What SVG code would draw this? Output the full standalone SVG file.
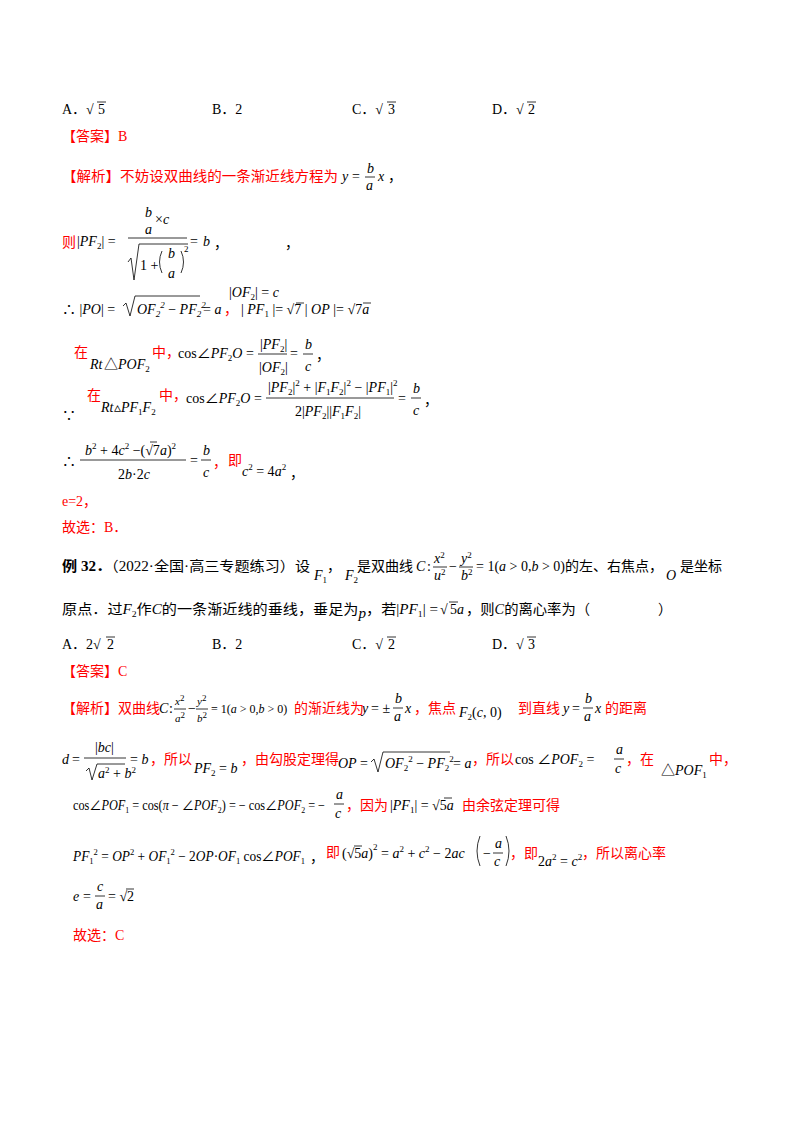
<svg xmlns="http://www.w3.org/2000/svg" width="800" height="1132" viewBox="0 0 800 1132">
<style>
text{font-family:"Liberation Serif","Noto Sans CJK SC",serif;font-size:14px;fill:#000}
.r{fill:#ff0000}
.i{font-style:italic}
.s{font-size:9px}
.b{font-weight:bold}
line{stroke:#000;stroke-width:0.8}
.k{fill:none;stroke:#000;stroke-width:0.8}
</style>
<rect width="800" height="1132" fill="#fff"/>
<text x="62" y="114">A．√</text><line x1="97" y1="102" x2="106" y2="102"/><text x="98" y="114">5</text>
<text x="212" y="114">B．2</text>
<text x="352" y="114">C．√</text><line x1="387" y1="102" x2="396" y2="102"/><text x="388" y="114">3</text>
<text x="492" y="114">D．√</text><line x1="527" y1="102" x2="536" y2="102"/><text x="528" y="114">2</text>
<text x="62" y="141" class="r">【答案】B</text>
<text x="62" y="181" class="r" textLength="276" lengthAdjust="spacingAndGlyphs">【解析】不妨设双曲线的一条渐近线方程为</text>
<text x="342" y="181" class="i">y</text><text x="352" y="181">=</text>
<text x="367" y="173" class="i">b</text><line x1="365" y1="177" x2="375" y2="177"/><text x="366" y="190" class="i">a</text>
<text x="378" y="181" class="i">x</text><text x="388" y="181">，</text>
<text x="62" y="247" class="r">则</text>
<text x="77" y="246"><tspan>|</tspan><tspan class="i">PF</tspan><tspan class="s" dy="3">2</tspan><tspan dy="-3">| =</tspan></text>
<text x="145" y="217" class="i">b</text><text x="155" y="224">×</text><text x="163" y="224" class="i">c</text>
<text x="145" y="234" class="i">a</text>
<line x1="128" y1="238" x2="187" y2="238"/>
<path class="k" d="M128,262 L131,258 L134,280 L139,244 L188,244"/>
<text x="140" y="270">1 +</text>
<path class="k" d="M162,251 Q157,262 162,273"/><path class="k" d="M181,251 Q186,262 181,273"/>
<text x="168" y="258" class="i">b</text><text x="168" y="278" class="i">a</text><text x="184" y="252" class="s">2</text>
<text x="190" y="246">=</text><text x="203" y="246" class="i">b</text><text x="214" y="248">，</text>
<text x="285" y="248">，</text>
<text x="229" y="297"><tspan>|</tspan><tspan class="i">OF</tspan><tspan class="s" dy="3">2</tspan><tspan dy="-3">| =</tspan><tspan class="i"> c</tspan></text>
<text x="62" y="314">∴ |<tspan class="i">PO</tspan>| =</text>
<path class="k" d="M123,306 L126,303 L130,316 L135,296 L200,296"/>
<text x="137" y="314" class="i">OF<tspan class="s" dy="3">2</tspan><tspan class="s" dy="-9">2</tspan><tspan dy="6" style="font-style:normal"> − </tspan>PF<tspan class="s" dy="3">2</tspan><tspan class="s" dy="-9">2</tspan></text>
<text x="203" y="314">= <tspan class="i">a</tspan></text><text x="224" y="314" class="r">，</text>
<text x="241" y="314">| <tspan class="i">PF</tspan><tspan class="s" dy="3">1</tspan><tspan dy="-3"> |= √7 | </tspan><tspan class="i">OP</tspan> |= √7<tspan class="i">a</tspan></text>
<line x1="296" y1="303" x2="304" y2="303"/><line x1="363" y1="303" x2="371" y2="303"/>
<text x="74" y="357" class="r">在</text>
<text x="90" y="369" class="i">Rt</text><text x="104" y="369">△<tspan class="i">POF</tspan><tspan class="s" dy="3">2</tspan></text>
<text x="152" y="357" class="r">中，</text>
<text x="178" y="358">cos∠<tspan class="i">PF</tspan><tspan class="s" dy="3">2</tspan><tspan class="i" dy="-3">O</tspan> =</text>
<text x="260" y="349">|<tspan class="i">PF</tspan><tspan class="s" dy="3">2</tspan><tspan dy="-3">|</tspan></text>
<line x1="258" y1="354" x2="287" y2="354"/>
<text x="259" y="372">|<tspan class="i">OF</tspan><tspan class="s" dy="3">2</tspan><tspan dy="-3">|</tspan></text>
<text x="290" y="358">=</text>
<text x="305" y="349" class="i">b</text><line x1="303" y1="354" x2="313" y2="354"/><text x="305" y="371" class="i">c</text>
<text x="316" y="360">，</text>
<text x="62" y="420">∵</text>
<text x="87" y="400" class="r">在</text>
<text x="101" y="412" class="i">Rt</text><text x="114" y="412">▵<tspan class="i">PF</tspan><tspan class="s" dy="3">1</tspan><tspan class="i" dy="-3">F</tspan><tspan class="s" dy="3">2</tspan></text>
<text x="159" y="400" class="r">中，</text>
<text x="186" y="403">cos∠<tspan class="i">PF</tspan><tspan class="s" dy="3">2</tspan><tspan class="i" dy="-3">O</tspan> =</text>
<text x="268" y="392">|<tspan class="i">PF</tspan><tspan class="s" dy="3">2</tspan><tspan dy="-3">|</tspan><tspan class="s" dy="-6">2</tspan><tspan dy="6"> + |</tspan><tspan class="i">F</tspan><tspan class="s" dy="3">1</tspan><tspan class="i" dy="-3">F</tspan><tspan class="s" dy="3">2</tspan><tspan dy="-3">|</tspan><tspan class="s" dy="-6">2</tspan><tspan dy="6"> − |</tspan><tspan class="i">PF</tspan><tspan class="s" dy="3">1</tspan><tspan dy="-3">|</tspan><tspan class="s" dy="-6">2</tspan></text>
<line x1="266" y1="398" x2="394" y2="398"/>
<text x="295" y="416">2|<tspan class="i">PF</tspan><tspan class="s" dy="3">2</tspan><tspan dy="-3">||</tspan><tspan class="i">F</tspan><tspan class="s" dy="3">1</tspan><tspan class="i" dy="-3">F</tspan><tspan class="s" dy="3">2</tspan><tspan dy="-3">|</tspan></text>
<text x="398" y="403">=</text>
<text x="413" y="393" class="i">b</text><line x1="411" y1="398" x2="421" y2="398"/><text x="413" y="415" class="i">c</text>
<text x="424" y="405">，</text>
<text x="62" y="466">∴</text>
<text x="85" y="455" class="i">b<tspan class="s" dy="-6" style="font-style:normal">2</tspan><tspan dy="6" style="font-style:normal"> + 4</tspan>c<tspan class="s" dy="-6" style="font-style:normal">2</tspan><tspan dy="6" style="font-style:normal"> −(√7</tspan>a<tspan style="font-style:normal">)</tspan><tspan class="s" dy="-6" style="font-style:normal">2</tspan></text>
<line x1="150" y1="442" x2="157" y2="442"/>
<line x1="80" y1="460" x2="186" y2="460"/>
<text x="118" y="479">2<tspan class="i">b</tspan>·2<tspan class="i">c</tspan></text>
<text x="190" y="465">=</text>
<text x="203" y="455" class="i">b</text><line x1="201" y1="460" x2="211" y2="460"/><text x="203" y="477" class="i">c</text>
<text x="213" y="467" class="r">，</text>
<text x="228" y="465" class="r">即</text>
<text x="242" y="476" class="i">c<tspan class="s" dy="-6" style="font-style:normal">2</tspan><tspan dy="6" style="font-style:normal"> = 4</tspan>a<tspan class="s" dy="-6" style="font-style:normal">2</tspan></text>
<text x="290" y="478">，</text>
<text x="62" y="506" class="r">e=2，</text>
<text x="62" y="532" class="r">故选：B．</text>
<text x="62" y="571" textLength="248" lengthAdjust="spacingAndGlyphs"><tspan class="b">例 32．</tspan>（2022·全国·高三专题练习）设</text>
<text x="314" y="580" class="i">F<tspan class="s" dy="3" style="font-style:normal">1</tspan></text><text x="327" y="571">，</text>
<text x="345" y="580" class="i">F<tspan class="s" dy="3" style="font-style:normal">2</tspan></text><text x="357" y="571">是双曲线</text>
<text x="416" y="571" class="i">C</text><text x="427" y="571">:</text>
<text x="434" y="563" class="i">x<tspan class="s" dy="-5" style="font-style:normal">2</tspan></text><line x1="433" y1="567" x2="447" y2="567"/><text x="434" y="580" class="i">u<tspan class="s" dy="-5" style="font-style:normal">2</tspan></text>
<text x="449" y="571">−</text>
<text x="461" y="563" class="i">y<tspan class="s" dy="-5" style="font-style:normal">2</tspan></text><line x1="459" y1="567" x2="473" y2="567"/><text x="461" y="580" class="i">b<tspan class="s" dy="-5" style="font-style:normal">2</tspan></text>
<text x="476" y="571">= 1(<tspan class="i">a</tspan> &gt; 0,<tspan class="i">b</tspan> &gt; 0)的左、右焦点，</text>
<text x="666" y="580" class="i">O</text><text x="680" y="571">是坐标</text>
<text x="62" y="614" textLength="376" lengthAdjust="spacingAndGlyphs">原点．过<tspan class="i">F</tspan><tspan class="s" dy="3">2</tspan><tspan dy="-3">作</tspan><tspan class="i">C</tspan>的一条渐近线的垂线，垂足为<tspan class="i" dy="4">p</tspan><tspan dy="-4">，若|</tspan><tspan class="i">PF</tspan><tspan class="s" dy="3">1</tspan><tspan dy="-3">| =</tspan></text>
<text x="440" y="614">√</text><line x1="449" y1="602" x2="458" y2="602"/><text x="450" y="614">5<tspan class="i">a</tspan></text>
<text x="466" y="614" textLength="124" lengthAdjust="spacingAndGlyphs">，则<tspan class="i">C</tspan>的离心率为（</text>
<text x="658" y="614">）</text>
<text x="62" y="649">A．2√</text><line x1="106" y1="637" x2="115" y2="637"/><text x="107" y="649">2</text>
<text x="212" y="649">B．2</text>
<text x="352" y="649">C．√</text><line x1="387" y1="637" x2="396" y2="637"/><text x="388" y="649">2</text>
<text x="492" y="649">D．√</text><line x1="527" y1="637" x2="536" y2="637"/><text x="528" y="649">3</text>
<text x="62" y="676" class="r">【答案】C</text>
<text x="62" y="713" class="r">【解析】双曲线</text>
<text x="159" y="713" class="i">C</text><text x="169" y="713">:</text>
<text x="175" y="705" class="i" style="font-size:11px">x<tspan class="s" dy="-4" style="font-style:normal">2</tspan></text><line x1="174" y1="709" x2="186" y2="709"/><text x="175" y="722" class="i" style="font-size:11px">a<tspan class="s" dy="-4" style="font-style:normal">2</tspan></text>
<text x="188" y="713">−</text>
<text x="197" y="705" class="i" style="font-size:11px">y<tspan class="s" dy="-4" style="font-style:normal">2</tspan></text><line x1="196" y1="709" x2="208" y2="709"/><text x="197" y="722" class="i" style="font-size:11px">b<tspan class="s" dy="-4" style="font-style:normal">2</tspan></text>
<text x="211" y="713" style="font-size:12px">= 1(<tspan class="i">a</tspan> &gt; 0,<tspan class="i">b</tspan> &gt; 0)</text>
<text x="294" y="713" class="r">的渐近线为</text>
<text x="362" y="713" class="i">y</text><text x="371" y="713">= ±</text>
<text x="395" y="703" class="i">b</text><line x1="393" y1="708" x2="403" y2="708"/><text x="394" y="721" class="i">a</text>
<text x="405" y="713" class="i">x</text>
<text x="414" y="713" class="r">，焦点</text>
<text x="459" y="717" class="i">F<tspan class="s" dy="3" style="font-style:normal">2</tspan><tspan dy="-3" style="font-style:normal">(</tspan>c<tspan style="font-style:normal">, 0)</tspan></text>
<text x="518" y="713" class="r">到直线</text>
<text x="563" y="713" class="i">y</text><text x="572" y="713">=</text>
<text x="585" y="703" class="i">b</text><line x1="583" y1="708" x2="593" y2="708"/><text x="584" y="721" class="i">a</text>
<text x="595" y="713" class="i">x</text><text x="605" y="713" class="r">的距离</text>
<text x="62" y="764" class="i">d</text><text x="72" y="764">=</text>
<text x="95" y="752">|<tspan class="i">bc</tspan>|</text>
<line x1="84" y1="758" x2="126" y2="758"/>
<path class="k" d="M86,771 L89,768 L92,780 L97,764 L125,764"/>
<text x="98" y="778" class="i">a<tspan class="s" dy="-5" style="font-style:normal">2</tspan><tspan dy="5" style="font-style:normal"> + </tspan>b<tspan class="s" dy="-5" style="font-style:normal">2</tspan></text>
<text x="130" y="764">= <tspan class="i">b</tspan></text>
<text x="150" y="764" class="r">，所以</text>
<text x="194" y="773" class="i">PF<tspan class="s" dy="3" style="font-style:normal">2</tspan><tspan dy="-3" style="font-style:normal"> = </tspan>b</text>
<text x="241" y="764" class="r">，由勾股定理得</text>
<text x="338" y="768" class="i">OP</text><text x="360" y="768">=</text>
<path class="k" d="M371,762 L374,759 L378,772 L383,752 L450,752"/>
<text x="385" y="768" class="i">OF<tspan class="s" dy="3" style="font-style:normal">2</tspan><tspan class="s" dy="-9" style="font-style:normal">2</tspan><tspan dy="6" style="font-style:normal"> − </tspan>PF<tspan class="s" dy="3" style="font-style:normal">2</tspan><tspan class="s" dy="-9" style="font-style:normal">2</tspan></text>
<text x="453" y="768">= <tspan class="i">a</tspan></text>
<text x="472" y="764" class="r">，所以</text>
<text x="515" y="764">cos ∠<tspan class="i">POF</tspan><tspan class="s" dy="3">2</tspan><tspan dy="-3"> =</tspan></text>
<text x="616" y="754" class="i">a</text><line x1="614" y1="759" x2="624" y2="759"/><text x="615" y="773" class="i">c</text>
<text x="626" y="764" class="r">，在</text>
<text x="661" y="775">△<tspan class="i">POF</tspan><tspan class="s" dy="3">1</tspan></text>
<text x="709" y="764" class="r">中，</text>
<text x="73" y="810" textLength="252" lengthAdjust="spacingAndGlyphs">cos∠<tspan class="i">POF</tspan><tspan class="s" dy="3">1</tspan><tspan dy="-3"> = cos(</tspan><tspan class="i">π</tspan> − ∠<tspan class="i">POF</tspan><tspan class="s" dy="3">2</tspan><tspan dy="-3">) = − cos∠</tspan><tspan class="i">POF</tspan><tspan class="s" dy="3">2</tspan><tspan dy="-3"> = −</tspan></text>
<text x="336" y="799" class="i">a</text><line x1="334" y1="804" x2="344" y2="804"/><text x="335" y="818" class="i">c</text>
<text x="346" y="810" class="r">，因为</text>
<text x="390" y="810">|<tspan class="i">PF</tspan><tspan class="s" dy="3">1</tspan><tspan dy="-3">| = √5</tspan><tspan class="i">a</tspan></text>
<line x1="444" y1="798" x2="452" y2="798"/>
<text x="462" y="810" class="r">由余弦定理可得</text>
<text x="73" y="861" class="i" textLength="232" lengthAdjust="spacingAndGlyphs">PF<tspan class="s" dy="3" style="font-style:normal">1</tspan><tspan class="s" dy="-9" style="font-style:normal">2</tspan><tspan dy="6" style="font-style:normal"> = </tspan>OP<tspan class="s" dy="-6" style="font-style:normal">2</tspan><tspan dy="6" style="font-style:normal"> + </tspan>OF<tspan class="s" dy="3" style="font-style:normal">1</tspan><tspan class="s" dy="-9" style="font-style:normal">2</tspan><tspan dy="6" style="font-style:normal"> − 2</tspan>OP<tspan style="font-style:normal">·</tspan>OF<tspan class="s" dy="3" style="font-style:normal">1</tspan><tspan dy="-3" style="font-style:normal"> cos∠</tspan>POF<tspan class="s" dy="3" style="font-style:normal">1</tspan></text>
<text x="310" y="862">，</text>
<text x="326" y="857" class="r">即</text>
<text x="342" y="858">(√5<tspan class="i">a</tspan>)<tspan class="s" dy="-8">2</tspan><tspan dy="8"> = </tspan><tspan class="i">a</tspan><tspan class="s" dy="-6">2</tspan><tspan dy="6"> + </tspan><tspan class="i">c</tspan><tspan class="s" dy="-6">2</tspan><tspan dy="6"> − 2</tspan><tspan class="i">ac</tspan></text>
<line x1="354" y1="846" x2="362" y2="846"/>
<path class="k" d="M480,836 Q474,851 480,866"/><path class="k" d="M506,836 Q512,851 506,866"/>
<text x="483" y="858">−</text>
<text x="495" y="848" class="i">a</text><line x1="493" y1="853" x2="503" y2="853"/><text x="494" y="866" class="i">c</text>
<text x="510" y="858" class="r">，即</text>
<text x="538" y="866">2<tspan class="i">a</tspan><tspan class="s" dy="-6">2</tspan><tspan dy="6"> = </tspan><tspan class="i">c</tspan><tspan class="s" dy="-6">2</tspan></text>
<text x="582" y="858" class="r">，所以离心率</text>
<text x="73" y="901" class="i">e</text><text x="83" y="901">=</text>
<text x="97" y="891" class="i">c</text><line x1="95" y1="896" x2="105" y2="896"/><text x="96" y="909" class="i">a</text>
<text x="108" y="901">= √</text><line x1="126" y1="889" x2="134" y2="889"/><text x="127" y="901">2</text>
<text x="73" y="940" class="r">故选：C</text>
</svg>
